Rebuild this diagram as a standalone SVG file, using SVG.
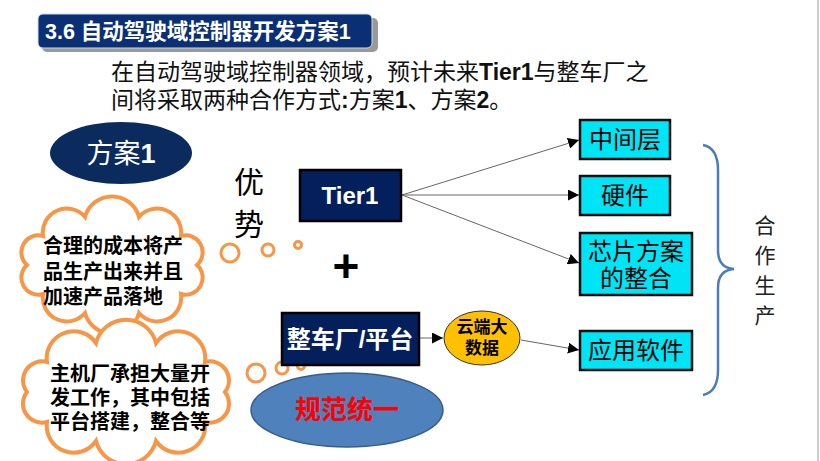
<svg xmlns="http://www.w3.org/2000/svg" width="820" height="461" viewBox="0 0 820 461">
<style>
.cjk{font-family:"Liberation Sans","Noto Sans CJK SC",sans-serif}
.b{font-weight:bold}
.cy{fill:#00e5f5;stroke:#111;stroke-width:2.5}
.cloud{fill:#fff;stroke:#f79646;stroke-width:4}
.bub{fill:none;stroke:#f79646;stroke-width:3}
.ln{stroke:#666;stroke-width:1;fill:none}
</style>
<defs>
<marker id="ar" viewBox="0 0 10 10" refX="10" refY="5" markerWidth="11" markerHeight="11" markerUnits="userSpaceOnUse" orient="auto"><path d="M0,0L10,5L0,10z" fill="#000"/></marker>
</defs>
<rect width="820" height="461" fill="#fff"/>
<line x1="818" y1="0" x2="818" y2="461" stroke="#ccc" stroke-width="2"/>
<g id="title">
<rect x="42" y="18" width="336" height="34" rx="5" fill="#999"/>
<rect x="38" y="14" width="334" height="34" rx="5" fill="#0b2f74" stroke="#cdd" stroke-width="1"/>
<text x="45" y="39" class="cjk b" font-size="21.5" fill="#fff">3.6 自动驾驶域控制器开发方案1</text>
</g>
<g id="intro" class="cjk" font-size="23" fill="#111">
<text x="111" y="80">在自动驾驶域控制器领域，预计未来<tspan class="b">Tier1</tspan>与整车厂之</text>
<text x="111" y="108">间将采取两种合作方式<tspan class="b">:</tspan>方案<tspan class="b">1</tspan>、方案<tspan class="b">2</tspan>。</text>
</g>
<g id="plan1">
<ellipse cx="121" cy="153" rx="71" ry="31" fill="#0b2a5e"/>
<text x="121" y="163" text-anchor="middle" class="cjk" font-size="27" fill="#fff">方案<tspan class="b">1</tspan></text>
</g>
<g id="adv" class="cjk" font-size="30" fill="#000">
<text x="234" y="193">优</text>
<text x="234" y="235">势</text>
<text x="346" y="282" text-anchor="middle" class="b" font-size="46">+</text>
</g>
<g id="cloud1">
<path class="cloud" d="M197,265 A17,17 0 0 1 181,294 A24,24 0 0 1 139,313 A28,28 0 0 1 85,313 A24,24 0 0 1 43,294 A17,17 0 0 1 27,265 A17,17 0 0 1 43,236 A24,24 0 0 1 85,217 A28,28 0 0 1 139,217 A24,24 0 0 1 181,236 A17,17 0 0 1 197,265Z"/>
<circle class="bub" cx="230" cy="253" r="9"/><circle class="bub" cx="268" cy="250" r="6"/><circle class="bub" cx="298" cy="245" r="3.5"/>
<g class="cjk b" font-size="20" fill="#000"><text x="43" y="253">合理的成本将产</text><text x="43" y="279">品生产出来并且</text><text x="43" y="304">加速产品落地</text></g>
</g>
<g id="cloud2">
<path class="cloud" d="M225,392 A19,19 0 0 1 205,422 A27,27 0 0 1 156,441 A31,31 0 0 1 96,441 A27,27 0 0 1 47,422 A19,19 0 0 1 27,392 A19,19 0 0 1 47,362 A27,27 0 0 1 96,343 A31,31 0 0 1 156,343 A27,27 0 0 1 205,362 A19,19 0 0 1 225,392Z"/>
<circle class="bub" cx="256" cy="373" r="9"/><circle class="bub" cx="282" cy="368" r="6"/><circle class="bub" cx="301" cy="366" r="3.5"/>
<g class="cjk b" font-size="20" fill="#000"><text x="50" y="381">主机厂承担大量开</text><text x="50" y="405">发工作，其中包括</text><text x="50" y="429">平台搭建，整合等</text></g>
</g>
<g id="connectors">
<line class="ln" x1="402" y1="195" x2="579" y2="140" marker-end="url(#ar)"/>
<line class="ln" x1="402" y1="195" x2="579" y2="195" marker-end="url(#ar)"/>
<line class="ln" x1="402" y1="195" x2="579" y2="263" marker-end="url(#ar)"/>
<line class="ln" x1="419" y1="338" x2="443" y2="338" marker-end="url(#ar)"/>
<line class="ln" x1="521" y1="340" x2="579" y2="350" marker-end="url(#ar)"/>
</g>
<g id="tier1">
<rect x="300" y="170" width="101" height="51" fill="#04205c" stroke="#000" stroke-width="2.5"/>
<text x="350" y="204" text-anchor="middle" class="cjk b" font-size="24" fill="#fff">Tier1</text>
</g>
<g id="oem">
<rect x="282" y="313" width="137" height="52" fill="#04205c" stroke="#000" stroke-width="2.5"/>
<text x="350" y="348" text-anchor="middle" class="cjk b" font-size="24" fill="#fff">整车厂/平台</text>
</g>
<g id="cloudData">
<ellipse cx="482" cy="338" rx="38" ry="27" fill="#ffc000" stroke="#333" stroke-width="1"/>
<text x="482" y="333" text-anchor="middle" class="cjk b" font-size="17" fill="#000">云端大</text>
<text x="482" y="354" text-anchor="middle" class="cjk b" font-size="17" fill="#000">数据</text>
</g>
<g id="norm">
<ellipse cx="347" cy="410" rx="96" ry="37" fill="#4f81bd" stroke="#385d8a" stroke-width="1.5"/>
<text x="347" y="419" text-anchor="middle" class="cjk b" font-size="26" fill="#ff0000">规范统一</text>
</g>
<g class="cjk" font-size="24" fill="#000" text-anchor="middle">
<g id="mid"><rect class="cy" x="580" y="120" width="90" height="39"/><text x="625" y="148">中间层</text></g>
<g id="hw"><rect class="cy" x="580" y="176" width="90" height="39"/><text x="625" y="204">硬件</text></g>
<g id="chip"><rect class="cy" x="580" y="233" width="112" height="62"/><text x="636" y="260">芯片方案</text><text x="636" y="287">的整合</text></g>
<g id="app"><rect class="cy" x="580" y="331" width="112" height="39"/><text x="636" y="359">应用软件</text></g>
</g>
<g id="brace">
<path d="M703,145 Q718,148 718,170 L718,250 Q718,268 734,269 Q718,270 718,288 L718,370 Q718,392 703,395" fill="none" stroke="#4a7ebb" stroke-width="2.5"/>
</g>
<g id="coop" class="cjk" font-size="21" fill="#222" text-anchor="middle">
<text x="765" y="233">合</text><text x="765" y="263">作</text><text x="765" y="293">生</text><text x="765" y="323">产</text>
</g>
</svg>
